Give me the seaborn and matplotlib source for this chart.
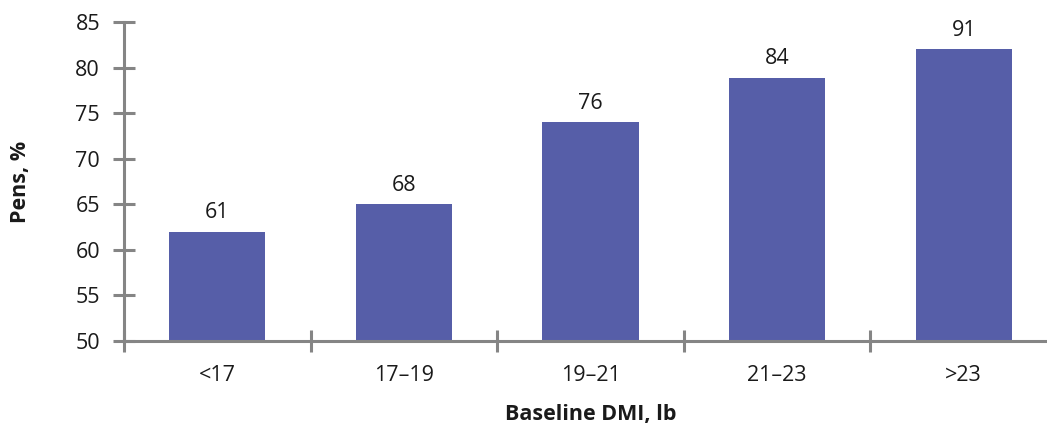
import matplotlib
matplotlib.use("Agg")
import matplotlib.pyplot as plt
import seaborn as sns
import pandas as pd
from matplotlib.ticker import FixedLocator

categories = ["<17", "17\u201319", "19\u201321", "21\u201323", ">23"]
bar_values = [62, 65, 74, 78.9, 82]
value_labels = ["61", "68", "76", "84", "91"]
y_ticks = [50, 55, 60, 65, 70, 75, 80, 85]

sns.set_style("white")
plt.rcParams["font.family"] = ["Open Sans", "DejaVu Sans"]

df = pd.DataFrame({"cat": categories, "val": bar_values})

W, H = 1047, 429
fig = plt.figure(figsize=(W / 100, H / 100), dpi=100)
left, right, top, bottom = 124, 1057, 22, 341
ax = fig.add_axes([left / W, (H - bottom) / H, (right - left) / W, (bottom - top) / H])

bar_color = "#565EA8"
sns.barplot(data=df, x="cat", y="val", color=bar_color, width=0.515,
            saturation=1, ax=ax, edgecolor="none")

ax.set_ylim(50, 85)
ax.set_xlim(-0.5, 4.5)
ax.set_yticks(y_ticks)
ax.set_yticklabels([str(t) for t in y_ticks])

fs = 15.5
for i, (v, lab) in enumerate(zip(bar_values, value_labels)):
    ax.annotate(lab, xy=(i, v), xytext=(0, 6), textcoords="offset points",
                ha="center", va="bottom", fontsize=fs, color="#1a1a1a")

grey = "#858585"
for s in ["top", "right"]:
    ax.spines[s].set_visible(False)
for s in ["left", "bottom"]:
    ax.spines[s].set_color(grey)
    ax.spines[s].set_linewidth(2.2)

ax.tick_params(axis="y", which="both", left=True, direction="inout", length=16.5,
               width=2.2, color=grey, labelsize=fs, labelcolor="#1a1a1a", pad=9)
ax.xaxis.set_minor_locator(FixedLocator([-0.5, 0.5, 1.5, 2.5, 3.5, 4.5]))
ax.tick_params(axis="x", which="major", bottom=True, length=0, labelsize=fs,
               labelcolor="#1a1a1a", pad=17)
ax.tick_params(axis="x", which="minor", bottom=True, direction="inout",
               length=16.5, width=2.2, color=grey)

ax.set_xlabel("Baseline DMI, lb", fontsize=fs, fontweight="bold",
              color="#1a1a1a", labelpad=13)
ax.set_ylabel("Pens, %", fontsize=fs, fontweight="bold", color="#1a1a1a",
              labelpad=32)

fig.savefig("out.png", dpi=100)
